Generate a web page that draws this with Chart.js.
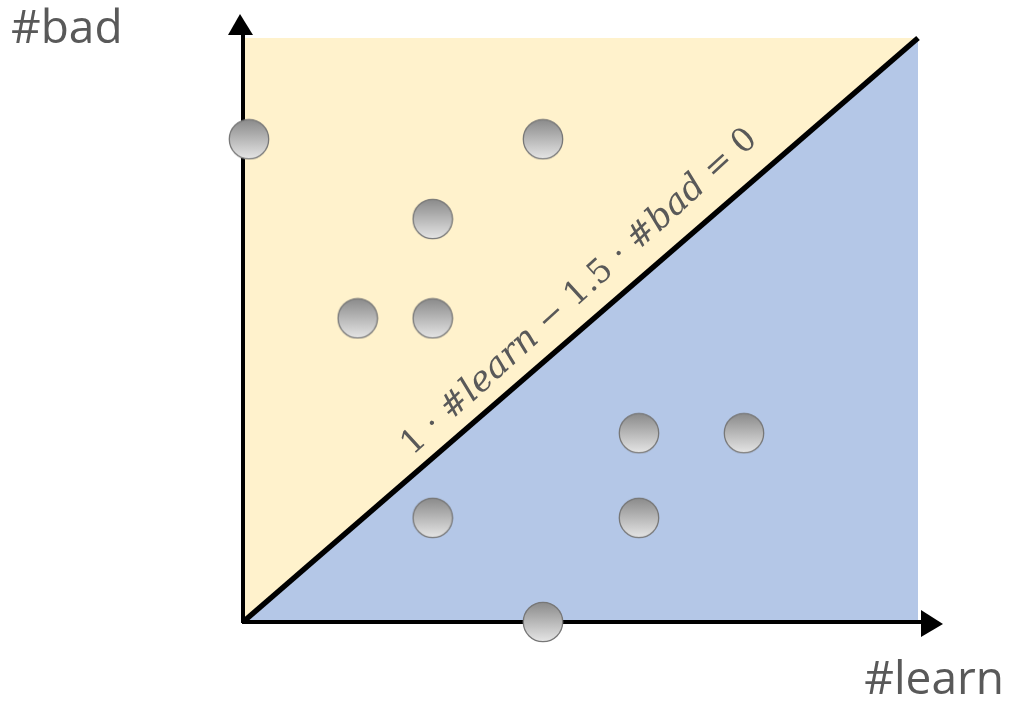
<!DOCTYPE html>
<html>
<head>
<meta charset="utf-8">
<script src="https://cdn.jsdelivr.net/npm/chart.js@4.4.1/dist/chart.umd.min.js"></script>
<style>
  html, body { margin: 0; padding: 0; background: #fff; }
  #wrap { width: 1010px; height: 703px; }
</style>
</head>
<body>
<div id="wrap"><canvas id="chart"></canvas></div>
<script>
// axis ranges (#learn on x, #bad on y)
const learnRange = [0, 9];
const badRange = [0, 6];

// sample points
const learnVals = [0.08, 4.0, 2.53, 1.53, 2.53, 5.28, 6.68, 2.53, 5.28, 4.0];
const badVals   = [4.96, 4.96, 4.14, 3.12, 3.12, 1.94, 1.94, 1.07, 1.07, 0.0];

// decision boundary 1*#learn - 1.5*#bad = 0
const boundaryLearn = [0, 9];
const boundaryBad   = [0, 6];

const xLabel = '#learn';
const yLabel = '#bad';
const equationParts = [
  ['1 · ', false], ['#', false], ['learn', true], [' − 1.5 · ', false],
  ['#', false], ['bad', true], [' = 0', false]
];

const points = learnVals.map((v, i) => ({ x: v, y: badVals[i] }));
const boundary = boundaryLearn.map((v, i) => ({ x: v, y: boundaryBad[i] }));

// grey shaded ball used as point style
function makeBall(r) {
  const c = document.createElement('canvas');
  c.width = c.height = r * 2 + 2;
  const g = c.getContext('2d');
  const grad = g.createLinearGradient(0, 1, 0, r * 2 + 1);
  grad.addColorStop(0, '#8a8a8a');
  grad.addColorStop(1, '#e6e6e6');
  g.beginPath();
  g.arc(r + 1, r + 1, r - 0.3, 0, Math.PI * 2);
  g.fillStyle = grad;
  g.fill();
  g.lineWidth = 1.3;
  g.strokeStyle = '#777';
  g.stroke();
  return c;
}
const ball = makeBall(20);

const axesPlugin = {
  id: 'arrowAxes',
  beforeDatasetsDraw(chart) {
    const { ctx, chartArea: a } = chart;
    ctx.save();
    ctx.strokeStyle = '#000';
    ctx.fillStyle = '#000';
    ctx.lineWidth = 4;
    ctx.beginPath();
    ctx.moveTo(a.left, a.bottom + 1);
    ctx.lineTo(a.left, a.top - 4);
    ctx.moveTo(a.left - 1, a.bottom);
    ctx.lineTo(a.right + 4, a.bottom);
    ctx.stroke();
    // arrow heads
    ctx.beginPath();
    ctx.moveTo(a.left - 3, a.top - 24);
    ctx.lineTo(a.left - 15, a.top - 3);
    ctx.lineTo(a.left + 10, a.top - 3);
    ctx.closePath();
    ctx.fill();
    ctx.beginPath();
    ctx.moveTo(a.right + 25, a.bottom + 2);
    ctx.lineTo(a.right + 3, a.bottom - 12);
    ctx.lineTo(a.right + 3, a.bottom + 15);
    ctx.closePath();
    ctx.fill();
    ctx.restore();
  },
  afterDraw(chart) {
    const { ctx, scales } = chart;
    const xs = scales.x, ys = scales.y;
    ctx.save();
    ctx.fillStyle = '#595959';
    ctx.font = '46px "Open Sans", sans-serif';
    ctx.textBaseline = 'middle';
    ctx.textAlign = 'left';
    ctx.fillText(yLabel, 11, 30);
    ctx.textAlign = 'right';
    ctx.fillText(xLabel, 1004, 681);

    // equation along the boundary
    const x0 = xs.getPixelForValue(boundaryLearn[0]), y0 = ys.getPixelForValue(boundaryBad[0]);
    const x1 = xs.getPixelForValue(boundaryLearn[1]), y1 = ys.getPixelForValue(boundaryBad[1]);
    const ang = Math.atan2(y1 - y0, x1 - x0);
    const len = Math.hypot(x1 - x0, y1 - y0);
    const t = 0.527 * len, off = 29;
    const cx = x0 + Math.cos(ang) * t + Math.sin(ang) * off;
    const cy = y0 + Math.sin(ang) * t - Math.cos(ang) * off;
    ctx.translate(cx, cy);
    ctx.rotate(ang - 0.025);
    const up = '33px "DejaVu Serif", serif';
    const it = 'italic 35px "DejaVu Serif", serif';
    let total = 0;
    equationParts.forEach(([s, i]) => { ctx.font = i ? it : up; total += ctx.measureText(s).width; });
    let x = -total / 2;
    ctx.textAlign = 'left';
    equationParts.forEach(([s, i]) => {
      ctx.font = i ? it : up;
      ctx.fillText(s, x, 0);
      x += ctx.measureText(s).width;
    });
    ctx.restore();
  }
};

new Chart(document.getElementById('chart'), {
  type: 'scatter',
  data: {
    datasets: [
      {
        label: 'points',
        data: points,
        pointStyle: ball,
        pointRadius: 20,
        clip: false,
        order: 0
      },
      {
        label: 'boundary',
        type: 'line',
        data: boundary,
        borderColor: '#000',
        borderWidth: 5.5,
        pointRadius: 0,
        fill: false,
        clip: false,
        order: 1
      },
      {
        label: 'bad side',
        type: 'line',
        data: boundary,
        borderWidth: 0,
        pointRadius: 0,
        backgroundColor: '#fff2cc',
        fill: 'end',
        order: 2
      },
      {
        label: 'learn side',
        type: 'line',
        data: boundary,
        borderWidth: 0,
        pointRadius: 0,
        backgroundColor: '#b4c7e7',
        fill: 'start',
        order: 3
      }
    ]
  },
  options: {
    responsive: true,
    maintainAspectRatio: false,
    animation: false,
    layout: { padding: { left: 243, right: 92, top: 38, bottom: 81 } },
    scales: {
      x: { type: 'linear', min: learnRange[0], max: learnRange[1], display: false },
      y: { type: 'linear', min: badRange[0], max: badRange[1], display: false }
    },
    plugins: {
      legend: { display: false },
      tooltip: { enabled: false },
      filler: { drawTime: 'beforeDatasetsDraw' }
    }
  },
  plugins: [axesPlugin]
});
</script>
</body>
</html>
